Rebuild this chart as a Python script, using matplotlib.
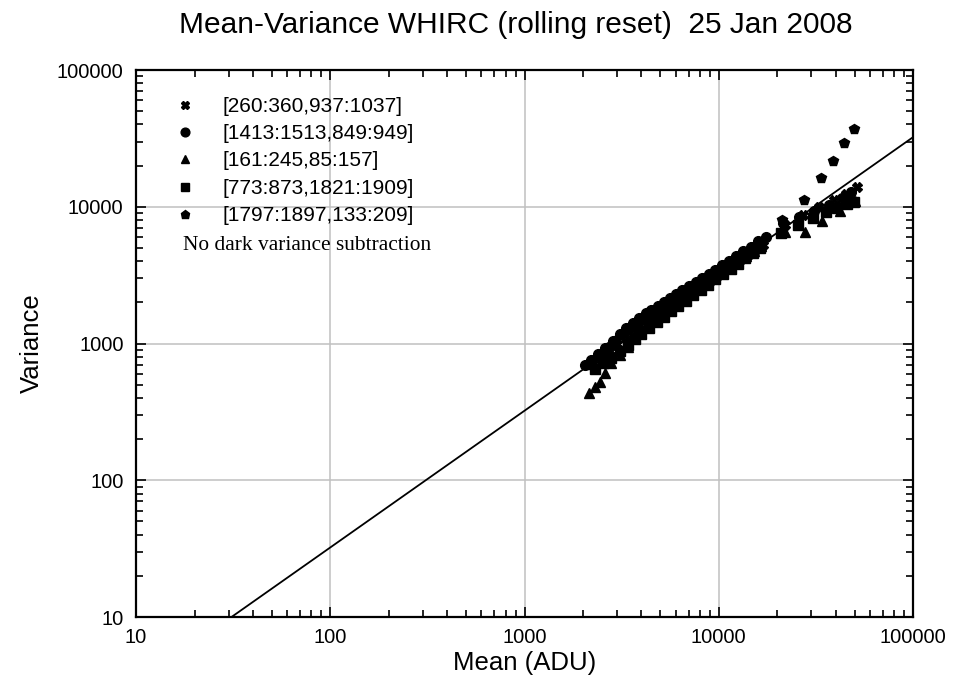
import numpy as np
import matplotlib
matplotlib.use("Agg")
import matplotlib.pyplot as plt
from matplotlib.ticker import LogLocator, NullFormatter, FixedLocator, FixedFormatter

# ---------------- data ----------------
labels = ["[260:360,937:1037]", "[1413:1513,849:949]", "[161:245,85:157]",
          "[773:873,1821:1909]", "[1797:1897,133:209]"]

mean1 = [2500, 2750, 3000, 3300, 3600, 3900, 4250, 4600, 5000, 5400, 5900, 6400, 7000,
         7600, 8300, 9100, 9900, 10800, 11800, 12900, 14100, 15400, 16800,
         22000, 27000, 33000, 39000, 45000, 51500]
var1 = [782, 887, 997, 1128, 1254, 1371, 1494, 1603, 1726, 1846, 1998, 2147, 2326,
        2501, 2704, 2935, 3194, 3449, 3768, 4078, 4457, 4819, 5257,
        7300, 8700, 10000, 11200, 12300, 14000]

mean2 = [2050, 2200, 2400, 2600, 2850, 3100, 3350, 3600, 3900, 4200, 4500, 4850, 5200,
         5600, 6000, 6500, 7000, 7600, 8200, 8900, 9600, 10400, 11300, 12300, 13400,
         14600, 16000, 17500, 21500, 26000, 31000, 37000, 43000, 48000]
var2 = [700, 752, 836, 923, 1039, 1170, 1297, 1417, 1547, 1666, 1771, 1893, 2013,
        2150, 2284, 2453, 2619, 2819, 3015, 3244, 3468, 3724, 4010, 4365, 4712,
        5086, 5574, 6040, 7600, 8400, 9300, 10300, 11500, 12900]

mean3 = [2140, 2300, 2440, 2600, 2800, 3090, 3420, 3700, 3950, 4300, 4700, 5100, 5600,
         6100, 6700, 7300, 8000, 8800, 9600, 10500, 11500, 12600, 13800, 15100, 16500,
         22000, 27800, 34000, 42000, 50000]
var3 = [432, 483, 525, 605, 716, 824, 950, 1120, 1330, 1480, 1600, 1720, 1870,
        2030, 2200, 2390, 2600, 2850, 3100, 3380, 3680, 4020, 4380, 4770, 5180,
        6500, 6550, 7900, 9300, 11000]

mean4 = [2300, 2550, 2800, 3100, 3400, 3700, 4000, 4400, 4800, 5200, 5700, 6200, 6800,
         7400, 8100, 8800, 9600, 10500, 11500, 12500, 13700, 15000, 16400,
         21000, 25500, 30500, 35500, 40500, 45500, 49500]
var4 = [653, 716, 786, 880, 976, 1074, 1174, 1306, 1440, 1560, 1728, 1880, 2062,
        2268, 2482, 2697, 2942, 3218, 3524, 3831, 4198, 4597, 5026,
        6400, 7400, 8300, 9100, 9800, 10400, 10900]

mean5 = [2100, 2250, 2450, 2700, 2950, 3250, 3550, 3850, 4150, 4500, 4900, 5300, 5800,
         6300, 6900, 7500, 8200, 9000, 9800, 10700, 11700, 12800, 14000, 15300, 16800,
         21200, 27600, 33500, 38900, 44200, 49900]
var5 = [691, 748, 830, 941, 1056, 1195, 1328, 1453, 1566, 1684, 1818, 1949, 2114,
        2276, 2471, 2661, 2883, 3135, 3382, 3659, 3963, 4335, 4697, 5133, 5582,
        8000, 11300, 16200, 21700, 29100, 36800]

gain = 3.1            # ADU fit: variance = mean / gain
fit_mean = [10, 100000]

tick_vals = [10, 100, 1000, 10000, 100000]
tick_labels = ["10", "100", "1000", "10000", "100000"]

# ---------------- plot ----------------
plt.rcParams['font.family'] = ['Liberation Sans', 'DejaVu Sans']
fig = plt.figure(figsize=(9.56, 6.83), dpi=100)
ax = fig.add_axes([0.1423, 0.0966, 0.8127, 0.8009])

markers = ['X', 'o', '^', 's', 'p']
series = [(mean1, var1), (mean2, var2), (mean3, var3), (mean4, var4), (mean5, var5)]
for (m, v), mk, lab in zip(series, markers, labels):
    ax.plot(m, v, linestyle='none', marker=mk, markersize=7, color='black',
            markeredgecolor='black', label=lab, zorder=3)

fm = np.array(fit_mean, dtype=float)
ax.plot(fm, fm / gain, color='black', linewidth=1.3, zorder=2)

ax.set_xscale('log')
ax.set_yscale('log')
ax.set_xlim(10, 100000)
ax.set_ylim(10, 100000)

for axis in (ax.xaxis, ax.yaxis):
    axis.set_major_locator(FixedLocator(tick_vals))
    axis.set_major_formatter(FixedFormatter(tick_labels))
    axis.set_minor_locator(LogLocator(base=10, subs=np.arange(2, 10)))
    axis.set_minor_formatter(NullFormatter())

ax.tick_params(which='both', direction='in', top=True, right=True, width=1.2,
               color='black', labelsize=14.5)
ax.tick_params(which='major', length=7)
ax.tick_params(which='minor', length=5)
ax.tick_params(axis='x', pad=8)
ax.tick_params(axis='y', pad=9)

ax.grid(True, which='major', color='#c0c0c0', linewidth=1.1, zorder=0)
ax.set_axisbelow(True)
for sp in ax.spines.values():
    sp.set_linewidth(1.6)
    sp.set_color('black')

ax.set_xlabel("Mean (ADU)", fontsize=18.5, labelpad=3)
ax.set_ylabel("Variance", fontsize=18.5, labelpad=9)
fig.text(0.54, 0.964, "Mean-Variance WHIRC (rolling reset)  25 Jan 2008",
         ha='center', va='center', fontsize=21.5)

leg = ax.legend(loc='upper left', bbox_to_anchor=(0.0497, 0.951), frameon=False,
                fontsize=15, handlelength=1.0, handletextpad=1.28, labelspacing=0.4,
                borderpad=0, borderaxespad=0, numpoints=1, markerscale=0.9)
ax.text(0.0605, 0.68, "No dark variance subtraction", transform=ax.transAxes,
        fontsize=15.4, family=['Liberation Serif', 'DejaVu Serif'], va='center', ha='left')

fig.savefig("out.png", dpi=100)
